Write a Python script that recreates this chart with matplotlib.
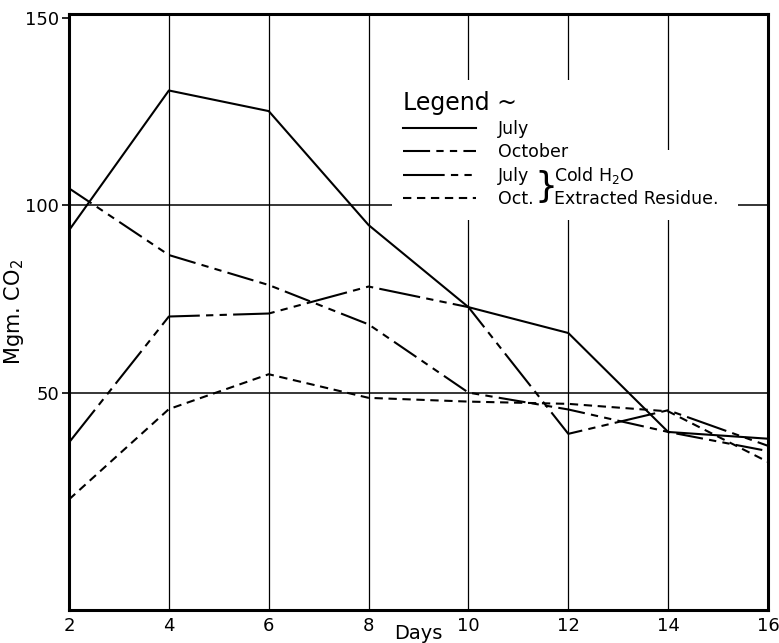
import numpy as np
import matplotlib
matplotlib.use('Agg')
import matplotlib.pyplot as plt
from matplotlib.patches import Rectangle

plt.rcParams['font.family'] = 'DejaVu Sans'

days = [2, 4, 6, 8, 10, 12, 14, 16]
july = [93.3, 130.6, 125.1, 94.7, 72.8, 65.9, 39.5, 37.7]
october = [104.5, 86.7, 78.7, 68.2, 50.0, 45.5, 39.5, 34.4]
july_cold = [36.7, 70.3, 71.1, 78.3, 72.8, 39.0, 45.3, 35.8]
oct_cold = [21.5, 45.6, 54.9, 48.6, 47.6, 47.0, 45.0, 31.5]

x_ticks = [2, 4, 6, 8, 10, 12, 14, 16]
y_ticks = [50, 100, 150]

fig = plt.figure(figsize=(7.79, 6.43), dpi=100)
ax = fig.add_axes([0.0886, 0.0513, 0.8973, 0.9269])

# grid: every x tick, only 50 and 100 across
for xv in x_ticks[1:-1]:
    ax.axvline(xv, color='black', linewidth=0.9, zorder=1)
for yv in [50, 100]:
    ax.axhline(yv, color='black', linewidth=1.1, zorder=1)

# dash lengths are in units of linewidth
lw = 1.5
ax.plot(days, july, color='black', linewidth=lw, linestyle='-', label='July', zorder=3)
ax.plot(days, october, color='black', linewidth=lw,
        linestyle=(0, (13, 3, 3.5, 3, 3.5, 3)), label='October', zorder=3)
ax.plot(days, july_cold, color='black', linewidth=lw,
        linestyle=(0, (20, 3, 3.5, 3, 3.5, 3)), label='July', zorder=3)
ax.plot(days, oct_cold, color='black', linewidth=lw,
        linestyle=(0, (4, 2.7)), label='Oct.', zorder=3)

ax.set_xlim(2, 16)
ax.set_ylim(-8, 151)
ax.set_xticks(x_ticks)
ax.set_xticklabels([str(v) for v in x_ticks], fontsize=13)
ax.set_yticks(y_ticks)
ax.set_yticklabels([str(v) for v in y_ticks], fontsize=13)
ax.tick_params(axis='x', length=0, pad=5)
ax.tick_params(axis='y', length=5, width=1.2, direction='out', pad=2)
for s in ax.spines.values():
    s.set_linewidth(2.2)

ax.set_xlabel('Days', fontsize=14)
ax.xaxis.set_label_coords(0.5, -0.024)
ax.set_ylabel('Mgm. CO$_2$', fontsize=15)
ax.yaxis.set_label_coords(-0.062, 0.5)

# white patch under the legend block so the grid breaks around it
ax.add_patch(Rectangle((0.462, 0.654), 0.298, 0.235, transform=ax.transAxes,
                       facecolor='white', edgecolor='none', zorder=4))
ax.add_patch(Rectangle((0.760, 0.654), 0.197, 0.118, transform=ax.transAxes,
                       facecolor='white', edgecolor='none', zorder=4))

leg = ax.legend(loc='upper left', bbox_to_anchor=(0.455, 0.897), title='Legend ~',
                fontsize=12.5, title_fontsize=17, handlelength=4.2,
                handletextpad=1.3, labelspacing=0.3, borderpad=0.4,
                frameon=False, alignment='left')
leg.set_zorder(5)

# brace grouping the two cold-water rows
fig.canvas.draw()
r = fig.canvas.get_renderer()
t3 = leg.get_texts()[2].get_window_extent(r)
t4 = leg.get_texts()[3].get_window_extent(r)
inv = ax.transAxes.inverted()
xr = max(t3.x1, t4.x1)
bx, by3 = inv.transform((xr + 1, (t3.y0 + t3.y1) / 2))
_, by4 = inv.transform((xr + 1, (t4.y0 + t4.y1) / 2))
ax.text(bx, (by3 + by4) / 2, '}', transform=ax.transAxes, fontsize=26,
        va='center', ha='left', zorder=6)
ax.text(bx + 0.028, by3, 'Cold H$_2$O', transform=ax.transAxes, fontsize=12.5,
        va='center', ha='left', zorder=6)
ax.text(bx + 0.028, by4, 'Extracted Residue.', transform=ax.transAxes, fontsize=12.5,
        va='center', ha='left', zorder=6)

fig.savefig('out.png', dpi=100, facecolor='white')
